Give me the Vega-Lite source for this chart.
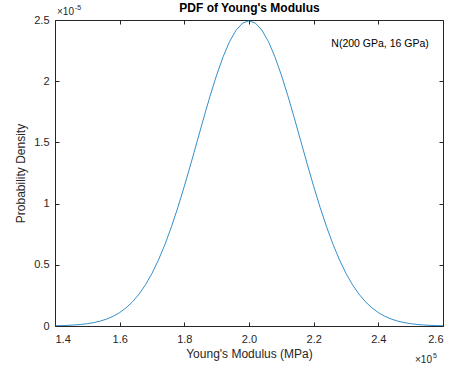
{
  "$schema": "https://vega.github.io/schema/vega-lite/v6.json",
  "width": 388,
  "height": 306,
  "autosize": {"type": "none"},
  "padding": {"left": 55, "top": 20, "right": 6, "bottom": 47},
  "background": "white",
  "config": {
    "font": "Liberation Sans",
    "view": {"stroke": null},
    "axis": {
      "domainColor": "#262626",
      "tickColor": "#262626",
      "labelColor": "#262626",
      "titleColor": "#262626",
      "labelFont": "Liberation Sans",
      "titleFont": "Liberation Sans",
      "labelFontSize": 11,
      "titleFontSize": 12,
      "titleFontWeight": "normal",
      "grid": false,
      "domainWidth": 1,
      "tickWidth": 1
    }
  },
  "datasets": {
    "pdf": [
      {"x": 140000, "y": 2.20e-8},
      {"x": 142000, "y": 3.49e-8},
      {"x": 144000, "y": 5.45e-8},
      {"x": 146000, "y": 8.38e-8},
      {"x": 148000, "y": 1.268e-7},
      {"x": 150000, "y": 1.889e-7},
      {"x": 152000, "y": 2.770e-7},
      {"x": 154000, "y": 3.999e-7},
      {"x": 156000, "y": 5.683e-7},
      {"x": 158000, "y": 7.953e-7},
      {"x": 160000, "y": 1.0955e-6},
      {"x": 162000, "y": 1.486e-6},
      {"x": 164000, "y": 1.984e-6},
      {"x": 166000, "y": 2.608e-6},
      {"x": 168000, "y": 3.374e-6},
      {"x": 170000, "y": 4.299e-6},
      {"x": 172000, "y": 5.392e-6},
      {"x": 174000, "y": 6.659e-6},
      {"x": 176000, "y": 8.095e-6},
      {"x": 178000, "y": 9.688e-6},
      {"x": 180000, "y": 1.1416e-5},
      {"x": 182000, "y": 1.3242e-5},
      {"x": 184000, "y": 1.5123e-5},
      {"x": 186000, "y": 1.7004e-5},
      {"x": 188000, "y": 1.8821e-5},
      {"x": 190000, "y": 2.0510e-5},
      {"x": 192000, "y": 2.2004e-5},
      {"x": 194000, "y": 2.3241e-5},
      {"x": 196000, "y": 2.4167e-5},
      {"x": 198000, "y": 2.4740e-5},
      {"x": 200000, "y": 2.4934e-5},
      {"x": 202000, "y": 2.4740e-5},
      {"x": 204000, "y": 2.4167e-5},
      {"x": 206000, "y": 2.3241e-5},
      {"x": 208000, "y": 2.2004e-5},
      {"x": 210000, "y": 2.0510e-5},
      {"x": 212000, "y": 1.8821e-5},
      {"x": 214000, "y": 1.7004e-5},
      {"x": 216000, "y": 1.5123e-5},
      {"x": 218000, "y": 1.3242e-5},
      {"x": 220000, "y": 1.1416e-5},
      {"x": 222000, "y": 9.688e-6},
      {"x": 224000, "y": 8.095e-6},
      {"x": 226000, "y": 6.659e-6},
      {"x": 228000, "y": 5.392e-6},
      {"x": 230000, "y": 4.299e-6},
      {"x": 232000, "y": 3.374e-6},
      {"x": 234000, "y": 2.608e-6},
      {"x": 236000, "y": 1.984e-6},
      {"x": 238000, "y": 1.486e-6},
      {"x": 240000, "y": 1.0955e-6},
      {"x": 242000, "y": 7.953e-7},
      {"x": 244000, "y": 5.683e-7},
      {"x": 246000, "y": 3.999e-7},
      {"x": 248000, "y": 2.770e-7},
      {"x": 250000, "y": 1.889e-7},
      {"x": 252000, "y": 1.268e-7},
      {"x": 254000, "y": 8.38e-8},
      {"x": 256000, "y": 5.45e-8},
      {"x": 258000, "y": 3.49e-8},
      {"x": 260000, "y": 2.20e-8}
    ],
    "notes": [
      {"x": 140000, "y": 2.5e-5, "label": "×10", "kind": "ymul"},
      {"x": 260000, "y": 0, "label": "×10", "kind": "xmul"},
      {"x": 255600, "y": 2.30e-5, "label": "N(200 GPa, 16 GPa)", "kind": "legend"}
    ]
  },
  "layer": [
    {
      "data": {"name": "pdf"},
      "mark": {"type": "line", "color": "#0072BD", "strokeWidth": 0.8, "clip": true},
      "encoding": {
        "x": {
          "field": "x", "type": "quantitative",
          "scale": {"domain": [140000, 260000], "nice": false, "zero": false},
          "axis": {
            "orient": "bottom",
            "values": [140000, 160000, 180000, 200000, 220000, 240000, 260000],
            "labelExpr": "format(datum.value/100000, '.1f')",
            "tickSize": -4,
            "labelPadding": 11,
            "title": "Young's Modulus (MPa)",
            "titlePadding": 4
          }
        },
        "y": {
          "field": "y", "type": "quantitative",
          "scale": {"domain": [0, 2.5e-5], "nice": false},
          "axis": {
            "orient": "left",
            "values": [0, 0.5e-5, 1e-5, 1.5e-5, 2e-5, 2.5e-5],
            "labelExpr": "format(datum.value*100000, '.2~g')",
            "tickSize": -4,
            "labelPadding": 10,
            "title": "Probability Density",
            "titlePadding": 6
          }
        }
      }
    },
    {
      "data": {"name": "pdf"},
      "mark": {"type": "line", "opacity": 0},
      "encoding": {
        "x": {
          "field": "x", "type": "quantitative",
          "scale": {"domain": [140000, 260000], "nice": false, "zero": false},
          "axis": {
            "orient": "top",
            "values": [140000, 160000, 180000, 200000, 220000, 240000, 260000],
            "labels": false, "tickSize": -4,
            "title": "PDF of Young's Modulus",
            "titleFontWeight": "bold",
            "titleColor": "black",
            "titleFontSize": 12,
            "titlePadding": 5
          }
        },
        "y": {
          "field": "y", "type": "quantitative",
          "scale": {"domain": [0, 2.5e-5], "nice": false},
          "axis": {
            "orient": "right",
            "values": [0, 0.5e-5, 1e-5, 1.5e-5, 2e-5, 2.5e-5],
            "labels": false, "tickSize": -4, "title": null
          }
        }
      }
    },
    {
      "data": {"name": "notes"},
      "transform": [{"filter": "datum.kind == 'ymul'"}],
      "mark": {"type": "text", "align": "left", "baseline": "alphabetic", "dx": 2, "dy": -5, "fontSize": 10, "color": "#262626", "font": "Liberation Sans"},
      "encoding": {
        "x": {"field": "x", "type": "quantitative", "axis": null},
        "y": {"field": "y", "type": "quantitative", "axis": null},
        "text": {"field": "label"}
      }
    },
    {
      "data": {"name": "notes"},
      "transform": [{"filter": "datum.kind == 'ymul'"}],
      "mark": {"type": "text", "align": "left", "baseline": "alphabetic", "dx": 20, "dy": -10, "fontSize": 7, "color": "#262626", "font": "Liberation Sans", "text": "-5"},
      "encoding": {
        "x": {"field": "x", "type": "quantitative", "axis": null},
        "y": {"field": "y", "type": "quantitative", "axis": null}
      }
    },
    {
      "data": {"name": "notes"},
      "transform": [{"filter": "datum.kind == 'xmul'"}],
      "mark": {"type": "text", "align": "right", "baseline": "alphabetic", "dx": -11, "dy": 37, "fontSize": 10, "color": "#262626", "font": "Liberation Sans"},
      "encoding": {
        "x": {"field": "x", "type": "quantitative", "axis": null},
        "y": {"field": "y", "type": "quantitative", "axis": null},
        "text": {"field": "label"}
      }
    },
    {
      "data": {"name": "notes"},
      "transform": [{"filter": "datum.kind == 'xmul'"}],
      "mark": {"type": "text", "align": "right", "baseline": "alphabetic", "dx": -6, "dy": 32, "fontSize": 7, "color": "#262626", "font": "Liberation Sans", "text": "5"},
      "encoding": {
        "x": {"field": "x", "type": "quantitative", "axis": null},
        "y": {"field": "y", "type": "quantitative", "axis": null}
      }
    },
    {
      "data": {"name": "notes"},
      "transform": [{"filter": "datum.kind == 'legend'"}],
      "mark": {"type": "text", "align": "right", "baseline": "middle", "fontSize": 10.5, "color": "black", "font": "Liberation Sans"},
      "encoding": {
        "x": {"field": "x", "type": "quantitative", "axis": null},
        "y": {"field": "y", "type": "quantitative", "axis": null},
        "text": {"field": "label"}
      }
    }
  ],
  "resolve": {"axis": {"x": "independent", "y": "independent"}}
}
